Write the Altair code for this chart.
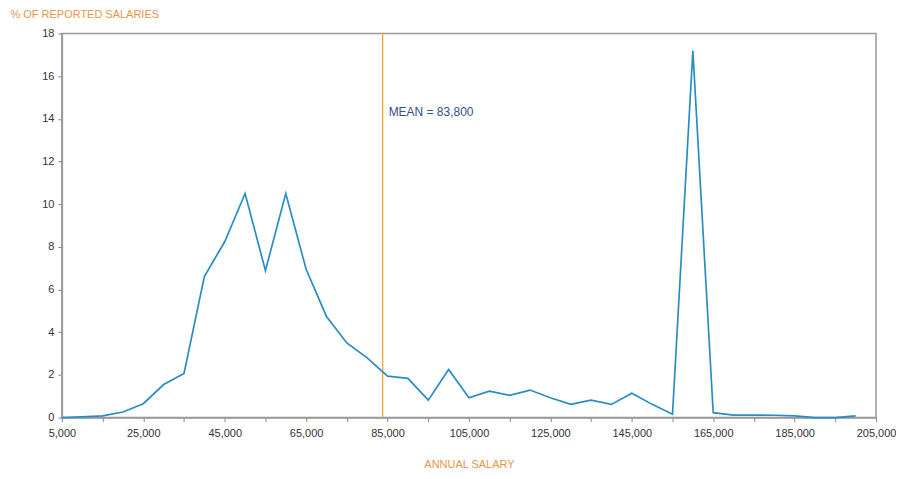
import altair as alt
import pandas as pd

salary = [5000, 10000, 15000, 20000, 25000, 30000, 35000, 40000, 45000, 50000,
          55000, 60000, 65000, 70000, 75000, 80000, 85000, 90000, 95000, 100000,
          105000, 110000, 115000, 120000, 125000, 130000, 135000, 140000, 145000, 150000,
          155000, 160000, 165000, 170000, 175000, 180000, 185000, 190000, 195000, 200000]
pct = [0.0, 0.03, 0.08, 0.26, 0.65, 1.55, 2.07, 6.61, 8.24, 10.5,
       6.89, 10.5, 6.95, 4.74, 3.5, 2.8, 1.94, 1.84, 0.82, 2.25,
       0.93, 1.24, 1.04, 1.29, 0.93, 0.62, 0.82, 0.62, 1.14, 0.62,
       0.16, 17.19, 0.23, 0.12, 0.12, 0.11, 0.08, 0.0, 0.0, 0.08]
mean_value = [83800]
mean_label = ["MEAN = 83,800"]
mean_label_y = [14.3]
x_ticks = list(range(5000, 205001, 5000))
y_ticks = list(range(0, 19, 2))

df = pd.DataFrame({"salary": salary, "pct": pct})
mean_df = pd.DataFrame({"mean": mean_value, "label": mean_label, "y": mean_label_y})

FONT = "Liberation Sans"
ORANGE = "#E8954A"

x_scale = alt.Scale(domain=[5000, 205000], nice=False, zero=False)
y_scale = alt.Scale(domain=[0, 18], nice=False)

line = alt.Chart(df).mark_line(color="#2B8CC4", strokeWidth=1.7).encode(
    x=alt.X("salary:Q", scale=x_scale,
            axis=alt.Axis(values=x_ticks, title="ANNUAL SALARY",
                          labelExpr="(datum.value - 5000) % 20000 == 0 ? format(datum.value, ',') : ''",
                          labelFont=FONT, labelFontSize=11, labelColor="#333333",
                          labelPadding=6, labelFlush=False,
                          tickSize=4, tickColor="#888888", domainColor="#999999",
                          domainWidth=1.5, grid=False,
                          titleFont=FONT, titleFontSize=11, titleFontWeight="normal",
                          titleColor=ORANGE, titlePadding=20)),
    y=alt.Y("pct:Q", scale=y_scale,
            axis=alt.Axis(values=y_ticks, title="% OF REPORTED SALARIES",
                          labelFont=FONT, labelFontSize=11, labelColor="#333333",
                          labelPadding=4,
                          tickSize=4, tickColor="#888888", domainColor="#999999",
                          domainWidth=1.5, grid=False,
                          titleFont=FONT, titleFontSize=11, titleFontWeight="normal",
                          titleColor=ORANGE, titleAngle=0, titleAlign="left",
                          titleBaseline="alphabetic",
                          titleX=-52, titleY=-16)),
)

rule = alt.Chart(mean_df).mark_rule(color="#F0A830", strokeWidth=1.3).encode(
    x=alt.X("mean:Q", scale=x_scale)
)

label = alt.Chart(mean_df).mark_text(
    align="left", baseline="middle", dx=6, font=FONT, fontSize=12, color="#34508A"
).encode(
    x=alt.X("mean:Q", scale=x_scale),
    y=alt.Y("y:Q", scale=y_scale),
    text="label:N",
)

chart = alt.layer(rule, line, label).properties(
    width=816, height=385,
    autosize=alt.AutoSizeParams(type="none"),
    padding={"left": 54, "top": 25, "right": 20, "bottom": 55},
).configure_view(stroke="#999999", strokeWidth=1.5)

chart.save("out.html", embed_options={"renderer": "svg", "actions": False})
